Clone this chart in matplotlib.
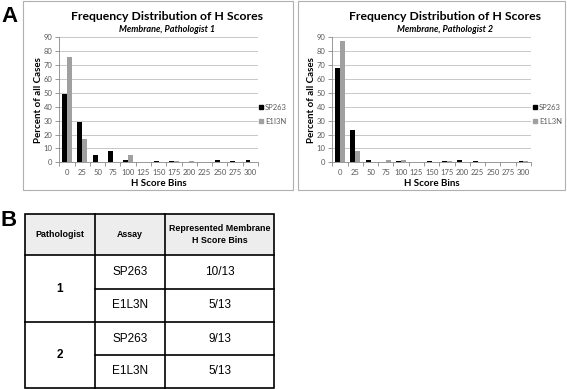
"""
H score frequency distribution (two pathologists) plus summary table
"""

import matplotlib
matplotlib.use("Agg")
import matplotlib.pyplot as plt
from matplotlib.patches import Rectangle
import numpy as np

W, H = 567, 389

bins = ["0", "25", "50", "75", "100", "125", "150", "175", "200", "225", "250", "275", "300"]
series_names_1 = ["SP263", "E1I3N"]
series_names_2 = ["SP263", "E1L3N"]
sp263_p1 = [49, 29, 5, 8, 2, 0, 1, 1, 0, 0, 2, 1, 2]
e1l3n_p1 = [76, 17, 0, 0, 5, 0, 0, 1, 1, 0, 0, 0, 0]
sp263_p2 = [68, 23, 2, 0, 1, 0, 1, 1, 2, 1, 0, 0, 1]
e1l3n_p2 = [87, 8, 0, 2, 2, 0, 0, 1, 0, 0, 0, 0, 1]
subtitles = ["Membrane, Pathologist 1", "Membrane, Pathologist 2"]

table_header = ["Pathologist", "Assay", "Represented Membrane\nH Score Bins"]
pathologists = ["1", "2"]
assays = ["SP263", "E1L3N", "SP263", "E1L3N"]
represented = ["10/13", "5/13", "9/13", "5/13"]

chart_font = ["Lato", "DejaVu Sans"]
table_font = ["Liberation Sans", "DejaVu Sans"]
tick_col = "#595959"


def px_axes(fig, left, top, right, bottom):
    return fig.add_axes([left / W, 1 - bottom / H, (right - left) / W, (bottom - top) / H])


def draw_chart(fig, box, ax_px, s1, s2, names, subtitle, title_x, leg_x):
    # outer chart frame
    bx0, by0, bx1, by1 = box
    fig.patches.append(Rectangle((bx0 / W, 1 - by1 / H), (bx1 - bx0) / W, (by1 - by0) / H,
                                 transform=fig.transFigure, fill=False,
                                 edgecolor="#b0b0b0", linewidth=0.8))
    ax = px_axes(fig, *ax_px)
    x = np.arange(len(bins))
    bw = 0.31
    ax.bar(x - bw / 2, s1, width=bw, color="black", zorder=3)
    ax.bar(x + bw / 2, s2, width=bw, color="#a0a0a0", zorder=3)
    ax.set_xlim(-0.5, len(bins) - 0.5)
    ax.set_ylim(0, 90)
    ax.set_yticks(range(0, 91, 10))
    ax.grid(axis="y", color="#c8c8c8", linewidth=0.7, zorder=0)
    ax.set_xticks(x)
    ax.set_xticklabels(bins)
    ax.set_xticks(np.arange(-0.5, len(bins)), minor=True)
    ax.tick_params(axis="x", which="major", length=0, labelsize=5.5, labelcolor=tick_col, pad=5)
    ax.tick_params(axis="x", which="minor", length=3, color="#888888", width=0.6)
    ax.tick_params(axis="y", length=3, color="#888888", width=0.6, labelsize=5.5, labelcolor=tick_col, pad=2)
    for lab in ax.get_xticklabels() + ax.get_yticklabels():
        lab.set_family(chart_font)
    for s in ["top", "right"]:
        ax.spines[s].set_visible(False)
    for s in ["left", "bottom"]:
        ax.spines[s].set_color("#888888")
        ax.spines[s].set_linewidth(0.6)
    ax.set_ylabel("Percent of all Cases", fontsize=7, fontweight="bold", family=chart_font, labelpad=0)
    ax.set_xlabel("H Score Bins", fontsize=7, fontweight="bold", family=chart_font, labelpad=2)

    fig.text(title_x / W, 1 - 16 / H, "Frequency Distribution of H Scores", ha="center", va="center",
             fontsize=8.8, fontweight="bold", family=chart_font)
    fig.text(title_x / W, 1 - 29 / H, subtitle, ha="center", va="center",
             fontsize=6.5, fontweight="bold", style="italic", family=chart_font)

    # legend
    for i, (nm, col) in enumerate(zip(names, ["black", "#a0a0a0"])):
        yy = 107 + i * 14
        fig.patches.append(Rectangle(((leg_x - 2) / W, 1 - (yy + 2) / H), 4 / W, 4 / H,
                                     transform=fig.transFigure, color=col))
        fig.text((leg_x + 4) / W, 1 - yy / H, nm, ha="left", va="center",
                 fontsize=5.5, color=tick_col, family=chart_font)
    return ax


fig = plt.figure(figsize=(W / 100, H / 100), dpi=100)

draw_chart(fig, (23, 1, 293, 190), (59.3, 37.3, 258, 162.3), sp263_p1, e1l3n_p1,
           series_names_1, subtitles[0], 167, 261)
draw_chart(fig, (298, 1, 565, 190), (332.3, 37.3, 531, 162.3), sp263_p2, e1l3n_p2,
           series_names_2, subtitles[1], 445, 535)

fig.text(10 / W, 1 - 16 / H, "A", ha="center", va="center", fontsize=16, fontweight="bold", family=table_font)
fig.text(9 / W, 1 - 221 / H, "B", ha="center", va="center", fontsize=16, fontweight="bold", family=table_font)

# table B on a pixel overlay
tax = fig.add_axes([0, 0, 1, 1])
tax.set_xlim(0, W)
tax.set_ylim(H, 0)
tax.axis("off")

cols = [25, 95, 165, 274]
rows = [214, 255, 289, 322, 355, 388]
tax.add_patch(Rectangle((cols[0], rows[0]), cols[-1] - cols[0], rows[1] - rows[0],
                        facecolor="#ededed", edgecolor="none"))
lw = 1.2
tax.add_patch(Rectangle((cols[0], rows[0]), cols[-1] - cols[0], rows[-1] - rows[0],
                        fill=False, edgecolor="black", linewidth=lw))
for c in cols[1:-1]:
    tax.plot([c, c], [rows[0], rows[-1]], color="black", linewidth=lw)
for r in [rows[1], rows[3]]:
    tax.plot([cols[0], cols[-1]], [r, r], color="black", linewidth=lw)
for r in [rows[2], rows[4]]:
    tax.plot([cols[1], cols[-1]], [r, r], color="black", linewidth=lw)

col_mid = [(cols[i] + cols[i + 1]) / 2 for i in range(3)]
for cm, txt in zip(col_mid, table_header):
    tax.text(cm, (rows[0] + rows[1]) / 2, txt, ha="center", va="center", fontsize=6.4,
             fontweight="bold", family=table_font, linespacing=1.3)
for i, p in enumerate(pathologists):
    tax.text(col_mid[0], (rows[1 + 2 * i] + rows[3 + 2 * i]) / 2, p, ha="center", va="center",
             fontsize=8.5, fontweight="bold", family=table_font)
for i, (a, r) in enumerate(zip(assays, represented)):
    ym = (rows[1 + i] + rows[2 + i]) / 2
    tax.text(col_mid[1], ym, a, ha="center", va="center", fontsize=8.5, family=table_font)
    tax.text(col_mid[2], ym, r, ha="center", va="center", fontsize=8.5, family=table_font)

fig.savefig("out.png", dpi=100)
